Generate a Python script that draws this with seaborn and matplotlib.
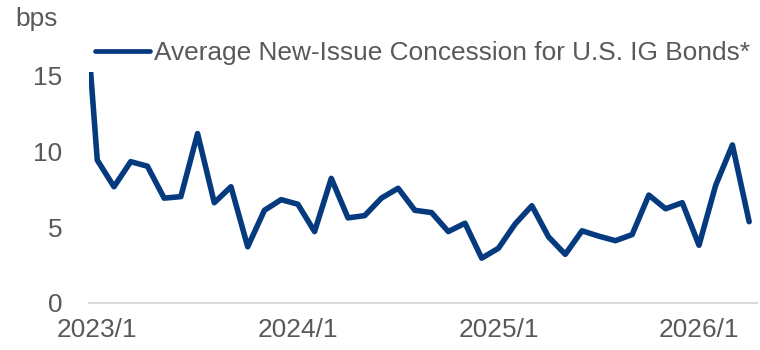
import matplotlib
matplotlib.use("Agg")
import matplotlib.pyplot as plt
import seaborn as sns
import pandas as pd

# Monthly average new-issue concession (bps), Dec 2022 through Apr 2026
months = pd.period_range("2022-12", "2026-04", freq="M").strftime("%Y/%-m").tolist()
concession_bps = [
    24.0,
    9.4, 7.65, 9.3, 9.0, 6.9, 7.0, 11.15, 6.6, 7.65, 3.7, 6.1, 6.8,
    6.5, 4.7, 8.2, 5.6, 5.75, 6.9, 7.55, 6.1, 5.95, 4.7, 5.25, 2.95,
    3.6, 5.2, 6.4, 4.35, 3.2, 4.75, 4.4, 4.1, 4.5, 7.1, 6.2, 6.6,
    3.8, 7.75, 10.4, 5.35,
]
tick_labels = ["2023/1", "2024/1", "2025/1", "2026/1"]
y_ticks = [0, 5, 10, 15]
series_name = "Average New-Issue Concession for U.S. IG Bonds*"

LINE = "#053A7E"
TEXT = "#595959"
AXIS = "#D9D9D9"
FS = 18.9

sns.set_theme(style="white")
plt.rcParams["font.family"] = ["Liberation Sans", "DejaVu Sans"]

df = pd.DataFrame({"month": months, "bps": concession_bps})
df["pos"] = range(-1, len(df) - 1)  # 2023/1 sits at position 0

fig = plt.figure(figsize=(7.6, 3.5), dpi=100)
ax = fig.add_axes([0.117, 0.1343, 0.8797, 0.66])

sns.lineplot(data=df, x="pos", y="bps", ax=ax, color=LINE, linewidth=4.0,
             label=series_name)
for ln in ax.get_lines():
    ln.set_solid_joinstyle("round")
    ln.set_solid_capstyle("round")

ax.set_xlim(-0.5, len(df) - 1.5)
ax.set_ylim(0, 15.2)
ax.set_yticks(y_ticks)
ax.set_yticklabels([str(v) for v in y_ticks])
tick_pos = [df.loc[df["month"] == t, "pos"].iloc[0] for t in tick_labels]
ax.set_xticks(tick_pos)
ax.set_xticklabels(tick_labels)
ax.set_xlabel("")
ax.set_ylabel("")

for side in ("left", "right", "top"):
    ax.spines[side].set_visible(False)
ax.spines["bottom"].set_color(AXIS)
ax.spines["bottom"].set_linewidth(1.5)
ax.tick_params(axis="both", length=0, labelsize=FS, labelcolor=TEXT)
ax.tick_params(axis="y", pad=19)
ax.tick_params(axis="x", pad=11)

ax.get_legend().remove()
leg = fig.legend(
    handles=ax.get_lines()[:1], labels=[series_name],
    loc="center left", bbox_to_anchor=(0.125, 0.849),
    frameon=False, fontsize=FS, labelcolor=TEXT,
    handlelength=2.1, handletextpad=0.16, borderpad=0, borderaxespad=0,
)
for h in leg.legend_handles:
    h.set_linewidth(3.4)
    h.set_solid_capstyle("round")

fig.text(15 / 760, 1 - 26 / 350, "bps", fontsize=FS, color=TEXT,
         ha="left", va="baseline")

fig.savefig("out.png", dpi=100)
